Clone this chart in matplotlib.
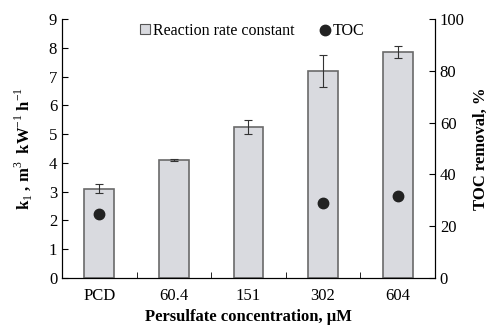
import matplotlib.pyplot as plt
from matplotlib.lines import Line2D
from matplotlib.patches import Patch
import numpy as np

plt.rcParams['font.family'] = ['Liberation Serif', 'DejaVu Serif']
plt.rcParams['mathtext.fontset'] = 'custom'
plt.rcParams['mathtext.rm'] = 'Liberation Serif'
plt.rcParams['mathtext.bf'] = 'Liberation Serif:bold'

# data
categories = ['PCD', '60.4', '151', '302', '604']
rate_k = [3.1, 4.1, 5.25, 7.2, 7.85]
rate_err = [0.15, 0.05, 0.25, 0.55, 0.2]
toc_x = ['PCD', '302', '604']
toc_removal = [24.7, 28.8, 31.7]

fig = plt.figure(figsize=(4.92, 3.27), dpi=100)
ax = fig.add_axes([0.126, 0.150, 0.758, 0.792])
xpos = np.arange(len(categories))
ax.bar(xpos, rate_k, width=0.4, color='#d9dadf', edgecolor='#6a6a6a', linewidth=1.2,
       yerr=rate_err, error_kw=dict(ecolor='#333333', elinewidth=0.8, capsize=3, capthick=0.8))
ax.set_xlim(-0.5, 4.5)
ax.set_ylim(0, 9)
ax.set_yticks(range(10))
ax.set_xticks(xpos)
ax.set_xticklabels(categories)
ax.set_xticks(np.arange(0.5, 4.5, 1), minor=True)
ax.tick_params(axis='x', which='major', length=0, pad=7)
ax.tick_params(axis='x', which='minor', direction='in', length=4)
ax.tick_params(axis='y', direction='in', length=4)
ax.tick_params(labelsize=12)
ax.spines['top'].set_visible(False)
ax.set_ylabel('k$_1$ , m$^3$  kW$^{-1}$ h$^{-1}$', fontsize=12, fontweight='bold', labelpad=10)
ax.set_xlabel('Persulfate concentration, μM', fontsize=12, fontweight='bold', labelpad=4)

ax2 = ax.twinx()
ax2.set_ylim(0, 100)
ax2.set_yticks(range(0, 101, 20))
ax2.tick_params(axis='y', direction='in', length=4, labelsize=12)
ax2.spines['top'].set_visible(False)
ax2.plot([categories.index(c) for c in toc_x], toc_removal, 'o', color='#222222', markersize=7.5, linestyle='none')
ax2.set_ylabel('TOC removal, %', fontsize=12, fontweight='bold', labelpad=6)

handles = [Patch(facecolor='#d9dadf', edgecolor='#555555', linewidth=0.8),
           Line2D([], [], marker='o', color='#222222', linestyle='none', markersize=7.5)]
ax.legend(handles, ['Reaction rate constant', 'TOC'], loc='upper center', ncol=2, frameon=False,
          fontsize=11.5, handlelength=0.6, handleheight=0.6, handletextpad=0.2, columnspacing=1.6,
          bbox_to_anchor=(0.51, 1.04))

fig.savefig('out.png', dpi=100)
